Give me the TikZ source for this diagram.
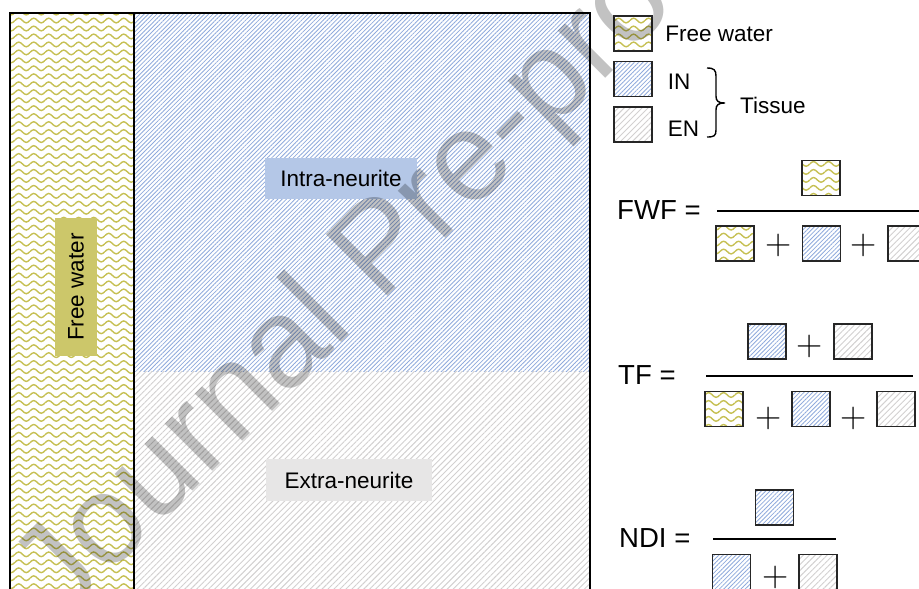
\documentclass[tikz,border=0pt]{standalone}
\usepackage{fontspec}
\setmainfont{Liberation Sans}
\newfontfamily\plusfont{Latin Modern Roman}
\usetikzlibrary{patterns.meta, positioning}

\definecolor{fwfill}{RGB}{204,199,106}
\definecolor{fwline}{RGB}{198,192,84}
\definecolor{infill}{RGB}{180,199,231}
\definecolor{inline}{RGB}{143,170,220}
\definecolor{enfill}{RGB}{231,230,230}
\definecolor{enline}{RGB}{210,208,208}

\tikzdeclarepattern{
  name=fwwave,
  type=uncolored,
  bounding box={(0pt,-1pt) and (12.8pt,5.8pt)},
  tile size={(12.8pt,6.8pt)},
  code={
    \draw[line width=1.2pt] (0pt,2.4pt) sin (3.2pt,4.4pt) cos (6.4pt,2.4pt) sin (9.6pt,0.4pt) cos (12.8pt,2.4pt);
  }
}

\begin{document}
\begin{tikzpicture}[x=0.03cm, y=-0.03cm,
  sq/.style={draw=black!85,line width=1pt,minimum width=1.14cm,minimum height=1.05cm,inner sep=0pt},
  fwsq/.style={sq,pattern=fwwave,pattern color=fwline},
  insq/.style={sq,pattern={Lines[angle=45,distance=2.6pt,line width=0.7pt]},pattern color=inline},
  ensq/.style={sq,pattern={Lines[angle=45,distance=3.6pt,line width=0.8pt]},pattern color=enline},
  lbl/.style={font=\fontsize{19.2}{22}\selectfont,inner sep=0pt},
  tag/.style={lbl,minimum height=1.24cm},
  eq/.style={font=\fontsize{23.5}{26}\selectfont,inner sep=0pt,anchor=west},
  pl/.style={font=\plusfont\fontsize{31}{33}\selectfont,inner sep=0pt},
  wm/.style={font=\fontsize{108}{116}\selectfont,text=black,text opacity=0.24,inner sep=0pt}]
  \clip (0,0) rectangle (919,589);
  % compartments
  \fill[pattern=fwwave,pattern color=fwline] (10,13) rectangle (134,600);
  \fill[pattern={Lines[angle=45,distance=2.6pt,line width=0.7pt]},pattern color=inline] (134,13) rectangle (590,371);
  \fill[pattern={Lines[angle=45,distance=3.6pt,line width=0.8pt]},pattern color=enline] (134,371) rectangle (590,600);
  \draw[line width=2.4pt] (10,13) rectangle (590,600);
  \draw[line width=1.8pt] (134,13) -- (134,600);
  \node[tag,fill=fwfill,rotate=90,minimum width=4.14cm](fw) at (76,287){Free water};
  \node[tag,fill=infill,minimum width=4.56cm](intra) at (341,178.5){Intra-neurite};
  \node[tag,fill=enfill,minimum width=4.98cm](extra) at (349,480){Extra-neurite};
  % legend
  \node[fwsq](fwl) at (633,33.5){};
  \node[insq](inl) at (633,79){};
  \node[ensq](enl) at (633,124.5){};
  \node[lbl,right=0.38cm of fwl](fwt){Free water};
  \node[lbl,right=0.45cm of inl,yshift=-0.08cm](int){IN};
  \node[lbl,right=0.45cm of enl,yshift=-0.12cm](ent){EN};
  \coordinate (bt) at (707,68);
  \coordinate (bb) at (707,137);
  \draw[line width=1.2pt] (bt) .. controls (714,68) and (716,70) .. (716,76) -- (716,96)
    .. controls (716,101) and (718,103) .. (725,103) .. controls (718,103) and (716,105) .. (716,110)
    -- (716,130) .. controls (716,136) and (714,137) .. (bb);
  \node[lbl,anchor=west](tis) at (740,105){Tissue};
  % FWF
  \node[eq](fwf) at (617,210){FWF =};
  \node[fwsq](f1) at (821,178){};
  \draw[line width=1.3pt] (717,211) -- (930,211);
  \node[fwsq](f2) at (735,243.5){};
  \node[insq](f3) at (821.5,243.5){};
  \node[ensq](f4) at (907,243.5){};
  \node[pl] at (779,245){+};
  \node[pl] at (864,245){+};
  % TF
  \node[eq](tf) at (618,375){TF =};
  \node[insq](t1) at (767,341.5){};
  \node[ensq](t2) at (853,341.5){};
  \node[pl] at (810,346){+};
  \draw[line width=1.3pt] (706,376) -- (913,376);
  \node[fwsq](t3) at (724,409){};
  \node[insq](t4) at (811,409){};
  \node[ensq](t5) at (896,409){};
  \node[pl] at (769,418){+};
  \node[pl] at (854,418){+};
  % NDI
  \node[eq](ndi) at (619,538){NDI =};
  \node[insq](n1) at (774.5,507.5){};
  \draw[line width=1.3pt] (713,539) -- (836,539);
  \node[insq](n2) at (731.5,572){};
  \node[ensq](n3) at (818,572){};
  \node[pl] at (776,577){+};
  % watermark
  \node[wm,rotate=45,anchor=base west](wmk) at (62,622){Journal Pre-proof};
\end{tikzpicture}
\end{document}
